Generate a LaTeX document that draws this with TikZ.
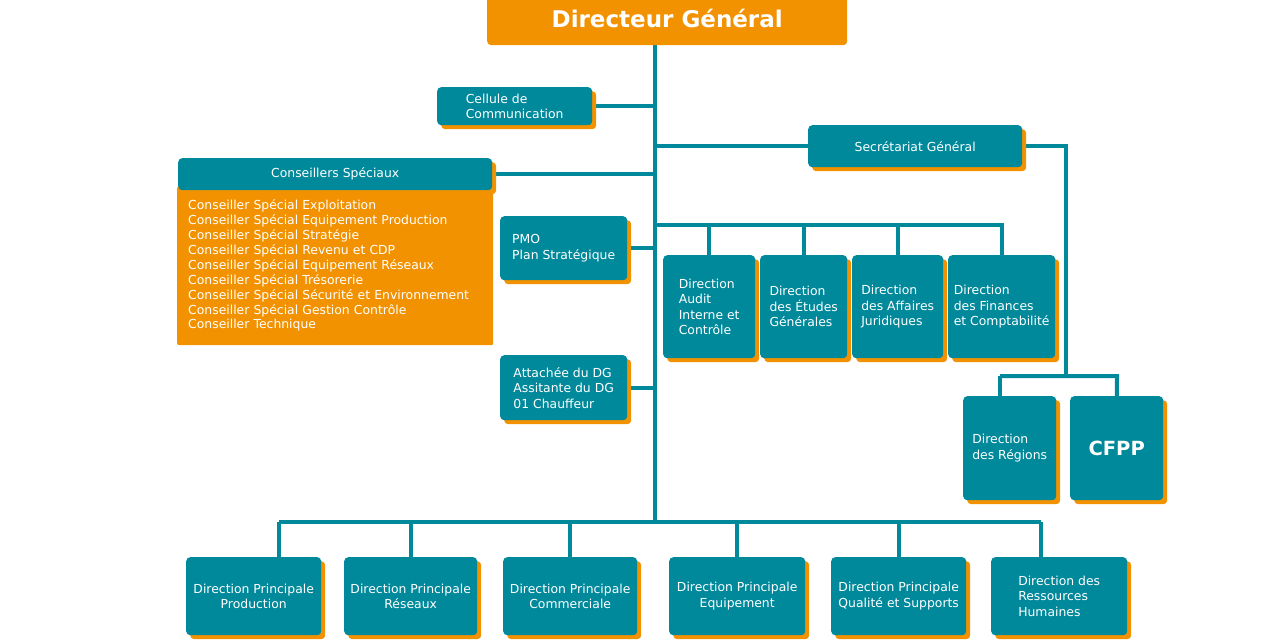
\documentclass[tikz,border=0pt]{standalone}
\usepackage{fontspec}
\setmainfont{DejaVu Sans}
\usepackage{xcolor}
\usetikzlibrary{positioning}
\usetikzlibrary{shadows}
\usetikzlibrary{backgrounds}
\definecolor{unitcolor}{RGB}{0, 137, 155}
\definecolor{chiefcolor}{RGB}{242, 146, 0}
\tikzstyle{unit} = [
    fill=unitcolor,
    text=white,
    rounded corners=4pt,
    inner sep=0pt,
    anchor=north west,
    align=left,
    font=\fontsize{12.4}{15.5}\selectfont,
    drop shadow={shadow xshift=4pt, shadow yshift=-4pt, fill=chiefcolor, opacity=1}
]
\tikzstyle{chief} = [
    fill=chiefcolor,
    text=white,
    rounded corners=4pt,
    inner sep=0pt,
    anchor=north west,
    font=\bfseries\fontsize{23}{27}\selectfont
]
\tikzstyle{advlist} = [
    fill=chiefcolor,
    text=white,
    rounded corners=2pt,
    inner xsep=11pt,
    inner ysep=0pt,
    anchor=north west,
    align=left,
    text width=294pt,
    font=\fontsize{12.4}{14.9}\selectfont
]
\tikzstyle{link} = [
    draw=unitcolor,
    line width=4pt
]

\begin{document}
\begin{tikzpicture}[x=1pt, y=-1pt]
	\useasboundingbox (0,0) rectangle (1269,641);
	
	%
	% Top
	\node[chief, minimum width=360pt, minimum height=53pt] (dg) at (487,-8) {Directeur Général};
	\node[unit, minimum width=155pt, minimum height=38pt] (cellule) at (437,87) {Cellule de\\Communication};
	\node[unit, align=center, minimum width=214pt, minimum height=42pt] (secgen) at (808,125) {Secrétariat Général};
	
	%
	% Advisers and staff
	\node[advlist, minimum height=159pt] (conslist) at (177,186) {Conseiller Spécial Exploitation\\
		Conseiller Spécial Equipement Production\\
		Conseiller Spécial Stratégie\\
		Conseiller Spécial Revenu et CDP\\
		Conseiller Spécial Equipement Réseaux\\
		Conseiller Spécial Trésorerie\\
		Conseiller Spécial Sécurité et Environnement\\
		Conseiller Spécial Gestion Contrôle\\
		Conseiller Technique};
	\node[unit, drop shadow={opacity=0}, align=center, minimum width=314pt, minimum height=32pt] (conshead) at (178,158) {Conseillers Spéciaux};
	\node[unit, minimum width=127pt, minimum height=64pt] (pmo) at (500,216) {PMO\\Plan Stratégique};
	\node[unit, minimum width=127pt, minimum height=65pt] (attache) at (500,355) {Attachée du DG\\Assitante du DG\\01 Chauffeur};
	
	%
	% Directions
	\node[unit, minimum width=92pt, minimum height=103pt] (daudit) at (663,255) {Direction\\Audit\\Interne et\\Contrôle};
	\node[unit, minimum width=87pt, minimum height=103pt] (detudes) at (760,255) {Direction\\des Études\\Générales};
	\node[unit, minimum width=91pt, minimum height=103pt] (djur) at (852,255) {Direction\\des Affaires\\Juridiques};
	\node[unit, minimum width=107pt, minimum height=103pt] (dfin) at (948,255) {Direction\\des Finances\\et Comptabilité};
	\node[unit, minimum width=93pt, minimum height=104pt] (dreg) at (963,396) {Direction\\des Régions};
	\node[unit, minimum width=93pt, minimum height=104pt, font=\bfseries\fontsize{19.5}{23}\selectfont] (cfpp) at (1070,396) {CFPP};
	
	%
	% Principal directions
	\node[unit, align=center, minimum width=135pt, minimum height=78pt] (dpprod) at (186,557) {Direction Principale\\Production};
	\node[unit, align=center, minimum width=133pt, minimum height=78pt] (dpres) at (344,557) {Direction Principale\\Réseaux};
	\node[unit, align=center, minimum width=134pt, minimum height=78pt] (dpcom) at (503,557) {Direction Principale\\Commerciale};
	\node[unit, align=center, minimum width=136pt, minimum height=78pt] (dpequip) at (669,557) {Direction Principale\\Equipement};
	\node[unit, align=center, minimum width=135pt, minimum height=78pt] (dpqual) at (831,557) {Direction Principale\\Qualité et Supports};
	\node[unit, minimum width=136pt, minimum height=78pt] (drh) at (991,557) {Direction des\\Ressources\\Humaines};
	
	%
	% Links
	\coordinate (busmid) at (655,225);
	\coordinate (busbot) at (655,522);
	\coordinate (busL) at (279,522);
	\coordinate (busR) at (1041,522);
	\coordinate (sgdrop) at (1066,376);
	\coordinate (regtap) at (1000,376);
	\coordinate (cfpptap) at (1117,376);
	\begin{scope}[on background layer]
		\fill[white] (0,0) rectangle (1269,641);
		\draw[link] (dg.south -| busbot) -- (busbot);
		\draw[link] (cellule) -- (cellule -| busbot);
		\draw[link] (secgen) -- (secgen -| busbot);
		\draw[link] (conshead) -- (conshead -| busbot);
		\draw[link] (pmo) -- (pmo -| busbot);
		\draw[link] (attache) -- (attache -| busbot);
		\draw[link] (busmid) -- (busmid -| dfin) -- (dfin);
		\foreach \d in {daudit, detudes, djur}
			\draw[link] (\d) -- (\d |- busmid);
		\draw[link] (secgen) -| (sgdrop);
		\draw[link] (regtap) -- (cfpptap) -- (cfpp);
		\draw[link] (regtap) -- (regtap |- dreg.north);
		\draw[link] (busL) -- (busR);
		\draw[link] (busL) -- (busL |- dpprod.north);
		\draw[link] (busR) -- (busR |- drh.north);
		\foreach \d in {dpres, dpcom, dpequip, dpqual}
			\draw[link] (\d) -- (\d |- busL);
	\end{scope}
	
\end{tikzpicture}
\end{document}
